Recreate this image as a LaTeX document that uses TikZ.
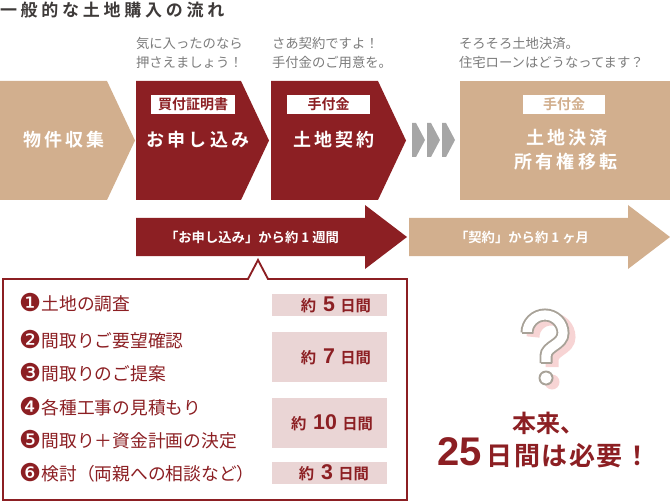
\documentclass[tikz,border=0pt]{standalone}
\usepackage{fontspec}
\setmainfont{Noto Sans CJK JP}[BoldFont={Noto Sans CJK JP Bold}]
\newfontfamily\numfont{Liberation Sans}
\newfontfamily\dingfont{DejaVu Sans}
\definecolor{wine}{HTML}{8C1F23}
\definecolor{tan}{HTML}{D2AF8E}
\definecolor{chev}{HTML}{A6A6A6}
\definecolor{pinkbox}{HTML}{EAD5D5}
\definecolor{capgray}{HTML}{7B7B7B}
\definecolor{titlegray}{HTML}{3E3A39}
\definecolor{qgray}{HTML}{A8A298}
\definecolor{qpink}{HTML}{F7D4D4}
\newcommand{\cnum}[1]{\raisebox{-1.2pt}{\dingfont\fontsize{18.5}{15}\selectfont #1}\hspace{0.5pt}}
\newcommand{\dnum}[1]{\hspace{0.45em}{\numfont\bfseries\fontsize{16}{16}\selectfont #1}\hspace{0.35em}}
\begin{document}
\begin{tikzpicture}[x=0.75pt,y=-0.75pt,
  txt/.style={inner sep=0pt, outer sep=0pt},
  bigtxt/.style={txt, text=white, font=\fontsize{13.5}{19}\selectfont\bfseries\addfontfeature{LetterSpace=18}},
  tagtxt/.style={txt, font=\fontsize{10.5}{12}\selectfont\bfseries},
  captxt/.style={txt, text=capgray, align=left, font=\fontsize{10}{14.6}\selectfont},
  itemtxt/.style={txt, anchor=west, text=wine, font=\fontsize{13.3}{15}\selectfont},
  daystxt/.style={txt, text=wine, font=\fontsize{11.5}{12}\selectfont\bfseries},
  arrtxt/.style={txt, text=white, font=\fontsize{10}{12}\selectfont\bfseries},
  qmark/.style={line cap=butt}
]
\useasboundingbox (0,0) rectangle (670,502);

% title
\node[txt, anchor=west, text=titlegray, font=\fontsize{12.75}{14}\selectfont\bfseries\addfontfeature{LetterSpace=22}] (title) at (0,10) {一般的な土地購入の流れ};

% captions
\node[captxt, anchor=west] (c1) at (136,53) {気に入ったのなら\\押さえましょう！};
\node[captxt, anchor=west] (c2) at (272,53) {さあ契約ですよ！\\手付金のご用意を。};
\node[captxt, anchor=west] (c3) at (459,53) {そろそろ土地決済。\\住宅ローンはどうなってます？};

% step shapes
\fill[tan] (0,81) -- (107,81) -- (135,140.5) -- (107,200) -- (0,200) -- cycle;
\fill[wine] (136,81) -- (241,81) -- (269,140.5) -- (241,200) -- (136,200) -- cycle;
\fill[wine] (271,81) -- (378,81) -- (406,140.5) -- (378,200) -- (271,200) -- cycle;
\foreach \cx in {412,427,442}
  \fill[chev] (\cx,123) -- (\cx+4,123) -- (\cx+13,140) -- (\cx+4,157) -- (\cx,157) -- cycle;
\fill[tan] (460,81) rectangle (670,200);

% tags
\fill[white] (151,95) rectangle (235,114);
\node[tagtxt, text=wine] (t1) at (193,104.5) {買付証明書};
\fill[white] (287,95) rectangle (370,114);
\node[tagtxt, text=wine] (t2) at (328.5,104.5) {手付金};
\fill[white] (523,95) rectangle (605,114);
\node[tagtxt, text=tan] (t3) at (564,104.5) {手付金};

% step labels
\node[bigtxt] (s1) at (64,140) {物件収集};
\node[bigtxt] (s2) at (198,140) {お申し込み};
\node[bigtxt] (s3) at (334,140) {土地契約};
\node[bigtxt] (s4a) at (567,138) {土地決済};
\node[bigtxt] (s4b) at (566,162) {所有権移転};

% period arrows
\fill[wine] (136,218) -- (365,218) -- (365,205) -- (407,237) -- (365,269) -- (365,256) -- (136,256) -- cycle;
\fill[tan] (409,218) -- (628,218) -- (628,205) -- (670,237) -- (628,269) -- (628,256) -- (409,256) -- cycle;
\node[arrtxt] (a1) at (252,237) {「お申し込み」から約 1 週間};
\node[arrtxt] (a2) at (522,237) {「契約」から約 1 ヶ月};

% callout box
\draw[wine, line width=1.4pt, fill=white, line join=miter]
  (3,279) -- (248,279) -- (258,260) -- (268,279) -- (407,279) -- (407,500) -- (3,500) -- cycle;

% items
\node[itemtxt] (i1) at (19,303) {\cnum{❶}土地の調査};
\node[itemtxt] (i2) at (19,340) {\cnum{❷}間取りご要望確認};
\node[itemtxt] (i3) at (19,373) {\cnum{❸}間取りのご提案};
\node[itemtxt] (i4) at (19,407) {\cnum{❹}各種工事の見積もり};
\node[itemtxt] (i5) at (19,440) {\cnum{❺}間取り＋資金計画の決定};
\node[itemtxt] (i6) at (19,473) {\cnum{❻}検討（両親への相談など）};

% day boxes
\fill[pinkbox] (272,294) rectangle (387,316);
\fill[pinkbox] (272,332) rectangle (387,382);
\fill[pinkbox] (272,398) rectangle (387,448);
\fill[pinkbox] (272,462) rectangle (387,484);
\node[daystxt] (d1) at (336,305) {約\dnum{5}日間};
\node[daystxt] (d2) at (336,357) {約\dnum{7}日間};
\node[daystxt] (d3) at (332,423) {約\dnum{10}日間};
\node[daystxt] (d4) at (334,473) {約\dnum{3}日間};

% question mark
\begin{scope}[shift={(6,4)}]
  \draw[qpink, line width=9.75pt, qmark] (527,333) arc[start angle=180, end angle=360, radius=18]
     .. controls (563,345) and (546,346) .. (546,356) -- (546,363);
  \fill[qpink] (546,378) circle (7.5);
\end{scope}
\draw[qgray, line width=9.75pt, qmark] (527,333) arc[start angle=180, end angle=360, radius=18]
     .. controls (563,345) and (546,346) .. (546,356) -- (546,363);
\draw[white, line width=6.9pt, qmark] (527,333) arc[start angle=180, end angle=360, radius=18]
     .. controls (563,345) and (546,346) .. (546,356) -- (546,363);
\draw[qgray, line width=1.4pt] (521.5,333) -- (532.5,333) (540.5,363) -- (551.5,363);
\fill[qgray] (546,378) circle (7.5);
\fill[white] (546,378) circle (5.6);

% conclusion
\node[txt, text=wine, font=\fontsize{18}{20}\selectfont\bfseries] (h1) at (548,423) {本来、};
\node[txt, text=wine, font=\fontsize{19.5}{22}\selectfont\bfseries\addfontfeature{LetterSpace=6}] (h2) at (544,453)
  {{\numfont\bfseries\fontsize{30}{30}\selectfont 25}\,日間は必要！};
\end{tikzpicture}
\end{document}
